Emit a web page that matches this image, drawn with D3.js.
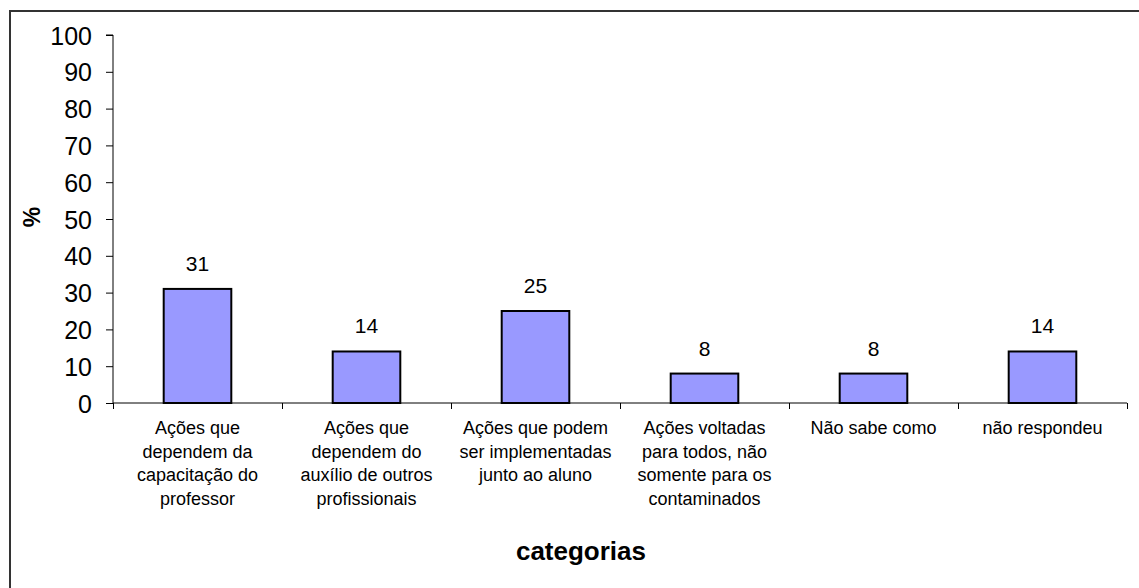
<!DOCTYPE html>
<html>
<head>
<meta charset="utf-8">
<script src="https://cdn.jsdelivr.net/npm/d3@7"></script>
<style>
body{margin:0;background:#fff}
svg{display:block}
text{font-family:"Liberation Sans",Arial,sans-serif;fill:#000}
</style>
</head>
<body>
<div class="Chart"></div>
<script>
const categories=[
	['Ações que','dependem da','capacitação do','professor'],
	['Ações que','dependem do','auxílio de outros','profissionais'],
	['Ações que podem','ser implementadas','junto ao aluno'],
	['Ações voltadas','para todos, não','somente para os','contaminados'],
	['Não sabe como'],
	['não respondeu']
]
const values=[31,14,25,8,8,14]
const yTicks=[0,10,20,30,40,50,60,70,80,90,100]

const W=1139,H=588
const plot={left:113,right:1127,top:35,bottom:403}

let svg=d3.select('.Chart').append('svg')
	.attr('width',W)
	.attr('height',H)

// outer frame (right/bottom edges fall outside the picture)
svg.append('rect')
	.attr('x',10).attr('y',11)
	.attr('width',W+20).attr('height',H+20)
	.attr('fill','none')
	.attr('stroke','#333')
	.attr('stroke-width',2)

let xScale=d3.scaleBand()
	.domain(d3.range(categories.length))
	.range([plot.left,plot.right])

let xEdge=d3.scaleLinear()
	.domain([0,categories.length])
	.range([plot.left,plot.right])

let yScale=d3.scaleLinear()
	.domain([0,100])
	.range([plot.bottom,plot.top])

let yAxis=d3.axisLeft(yScale)
	.tickValues(yTicks)
	.tickSize(7)
	.tickPadding(14)

let xAxis=d3.axisBottom(xEdge)
	.tickValues(d3.range(categories.length+1))
	.tickSize(6)
	.tickFormat('')

svg.append('g')
	.attr('class','y-axis')
	.attr('transform',`translate(${plot.left},0)`)
	.call(yAxis)
	.call(g=>g.select('.domain').attr('d',`M-7,${plot.top}H0V${plot.bottom}`))
	.call(g=>g.selectAll('text').style('font-size','25px').attr('dy','0.36em'))

svg.append('g')
	.attr('class','x-axis')
	.attr('transform',`translate(0,${plot.bottom})`)
	.call(xAxis)
	.call(g=>g.select('.domain').attr('d',`M${plot.left},0H${plot.right}`))

svg.selectAll('.domain,.tick line').attr('stroke','#000')

const bw=xScale.bandwidth()*0.4

svg.selectAll('.bar')
	.data(values)
	.enter()
	.append('rect')
	.attr('class','bar')
	.attr('x',(d,i)=>xScale(i)+(xScale.bandwidth()-bw)/2)
	.attr('y',d=>yScale(d))
	.attr('width',bw)
	.attr('height',d=>yScale(0)-yScale(d))
	.attr('fill','#9999FF')
	.attr('stroke','#000')
	.attr('stroke-width',2)

svg.selectAll('.val')
	.data(values)
	.enter()
	.append('text')
	.attr('class','val')
	.attr('x',(d,i)=>xScale(i)+xScale.bandwidth()/2)
	.attr('y',d=>yScale(d)-18)
	.attr('text-anchor','middle')
	.style('font-size','21px')
	.text(d=>d)

let labels=svg.selectAll('.cat')
	.data(categories)
	.enter()
	.append('text')
	.attr('class','cat')
	.attr('text-anchor','middle')
	.style('font-size','18px')

labels.selectAll('tspan')
	.data((d,i)=>d.map(l=>({l,i})))
	.enter()
	.append('tspan')
	.attr('x',d=>xScale(d.i)+xScale.bandwidth()/2)
	.attr('y',(d,j)=>434+j*23.5)
	.text(d=>d.l)

svg.append('text')
	.attr('class','y-title')
	.attr('transform','translate(40,217) rotate(-90)')
	.attr('text-anchor','middle')
	.style('font-size','23px')
	.style('font-weight','bold')
	.text('%')

svg.append('text')
	.attr('class','x-title')
	.attr('x',581)
	.attr('y',560)
	.attr('text-anchor','middle')
	.style('font-size','26px')
	.style('font-weight','bold')
	.text('categorias')
</script>
</body>
</html>
